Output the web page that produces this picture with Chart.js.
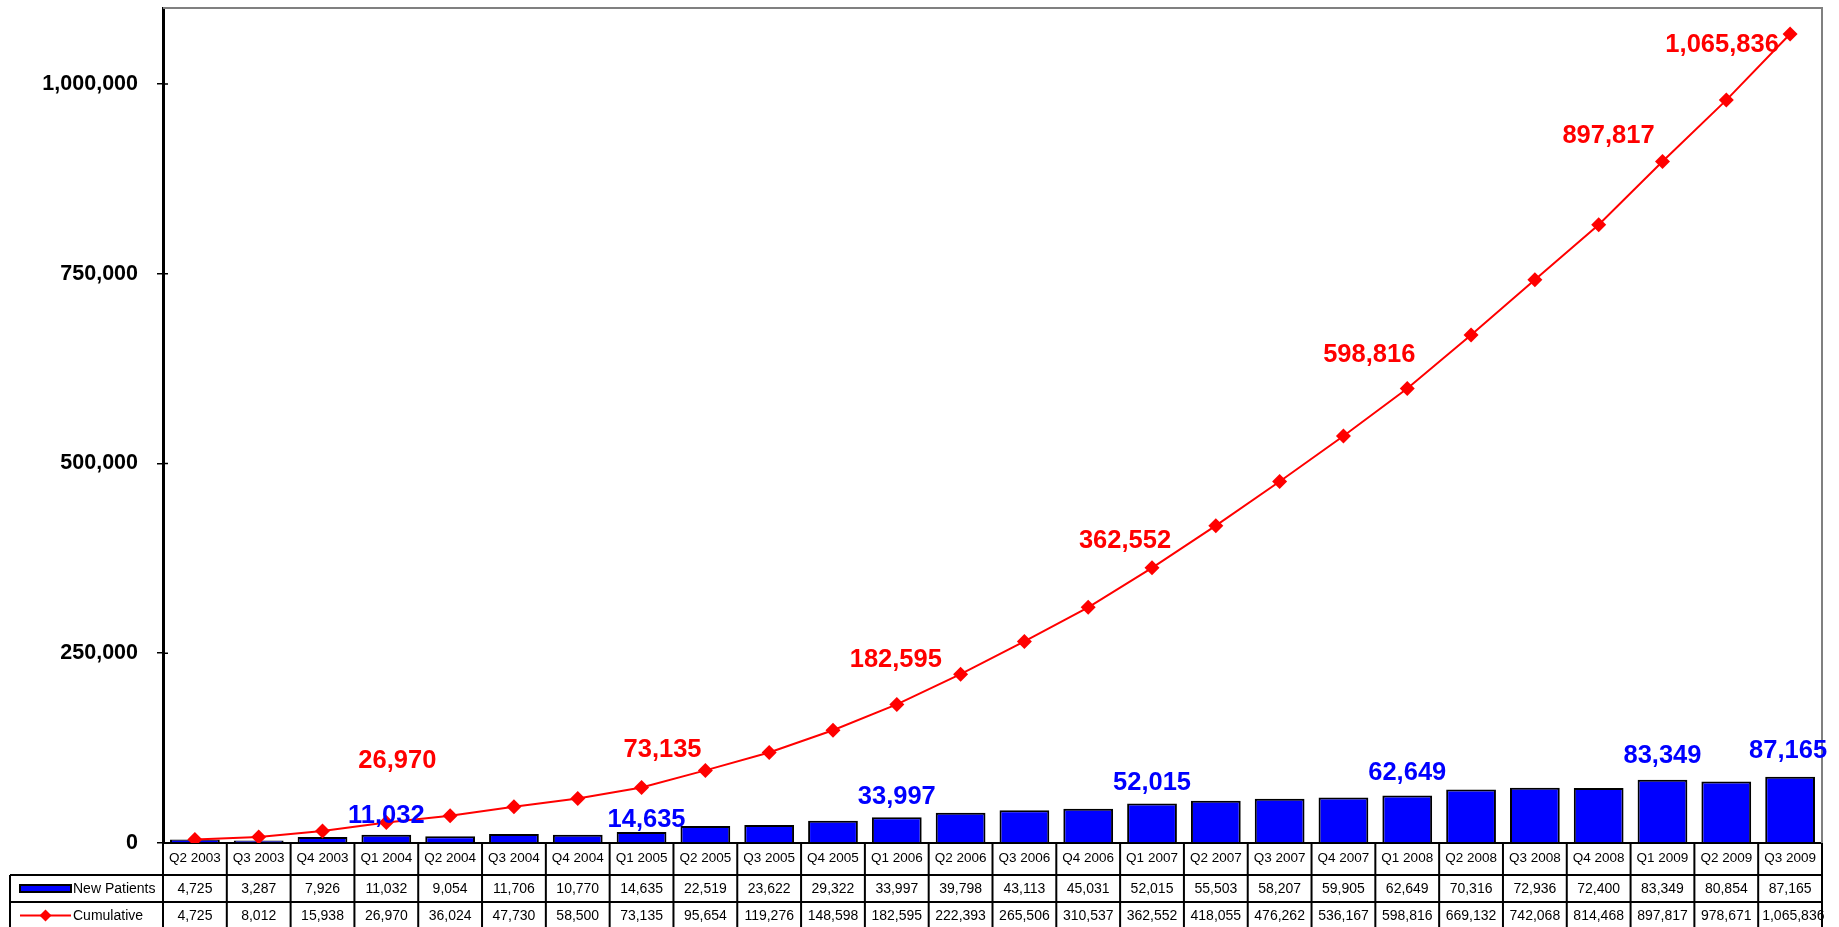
<!DOCTYPE html>
<html>
<head>
<meta charset="utf-8">
<script src="https://cdn.jsdelivr.net/npm/chart.js@4.4.1/dist/chart.umd.min.js"></script>
<style>
  html, body { margin: 0; padding: 0; background: #fff; overflow: hidden; }
  #wrap { width: 1839px; height: 927px; position: relative; }
</style>
</head>
<body>
<div id="wrap"><canvas id="c"></canvas></div>
<script>
// ---- data ----
const categories = ['Q2 2003','Q3 2003','Q4 2003','Q1 2004','Q2 2004','Q3 2004','Q4 2004',
  'Q1 2005','Q2 2005','Q3 2005','Q4 2005','Q1 2006','Q2 2006','Q3 2006','Q4 2006',
  'Q1 2007','Q2 2007','Q3 2007','Q4 2007','Q1 2008','Q2 2008','Q3 2008','Q4 2008',
  'Q1 2009','Q2 2009','Q3 2009'];
const newPatients = [4725,3287,7926,11032,9054,11706,10770,14635,22519,23622,29322,33997,
  39798,43113,45031,52015,55503,58207,59905,62649,70316,72936,72400,83349,80854,87165];
const cumulative = [4725,8012,15938,26970,36024,47730,58500,73135,95654,119276,148598,182595,
  222393,265506,310537,362552,418055,476262,536167,598816,669132,742068,814468,897817,978671,1065836];
const seriesNames = ['New Patients','Cumulative'];
const yTicks = [0,250000,500000,750000,1000000];
const labelledIdx = [3,7,11,15,19,23,25];

// ---- label placement (pixel offsets from the library-computed point) ----
const cumLabelOffsets = {3:[11,-62],7:[21,-38],11:[-1,-44],15:[-27,-27],19:[-38,-33],23:[-54,-26],25:[-68,11]};
const newLabelOffsets = {3:[0,-19],7:[5,-12],11:[0,-20],15:[0,-21],19:[0,-22],23:[0,-24],25:[-2,-26]};

const FONT = '"Liberation Sans", Arial, Helvetica, sans-serif';
const fmt = v => v.toLocaleString('en-US');

const frameAndLabels = {
  id: 'frameAndLabels',
  beforeDatasetsDraw(chart) {
    const {ctx, chartArea: a} = chart;
    ctx.save();
    ctx.strokeStyle = '#808080';
    ctx.lineWidth = 2;
    ctx.beginPath();
    ctx.moveTo(a.left, a.top); ctx.lineTo(a.right, a.top); ctx.lineTo(a.right, a.bottom);
    ctx.stroke();
    // tick marks crossing into the plot area
    const y = chart.scales.y;
    ctx.strokeStyle = '#000';
    ctx.lineWidth = 1.5;
    ctx.beginPath();
    yTicks.forEach(v => { const py = y.getPixelForValue(v); ctx.moveTo(a.left, py); ctx.lineTo(a.left + 5, py); });
    ctx.stroke();
    ctx.restore();
  },
  afterDatasetsDraw(chart) {
    const {ctx} = chart;
    ctx.save();
    ctx.font = 'bold 25.5px ' + FONT;
    ctx.textAlign = 'center';
    ctx.textBaseline = 'middle';
    const barMeta = chart.getDatasetMeta(0);
    const lineMeta = chart.getDatasetMeta(1);
    labelledIdx.forEach(i => {
      const b = barMeta.data[i];
      const ob = newLabelOffsets[i];
      ctx.fillStyle = '#0000FF';
      ctx.fillText(fmt(newPatients[i]), b.x + ob[0], b.y + ob[1]);
      const p = lineMeta.data[i];
      const op = cumLabelOffsets[i];
      ctx.fillStyle = '#FF0000';
      ctx.fillText(fmt(cumulative[i]), p.x + op[0], p.y + op[1]);
    });
    ctx.restore();
  }
};

const dataTable = {
  id: 'dataTable',
  afterDraw(chart) {
    const {ctx, chartArea: a, scales: {x}} = chart;
    const n = categories.length;
    const bounds = [];
    for (let i = 0; i <= n; i++) {
      bounds.push(i === 0 ? a.left : (i === n ? a.right : (x.getPixelForValue(i - 1) + x.getPixelForValue(i)) / 2));
    }
    const catTop = a.bottom, r1 = a.bottom + 32, r2 = r1 + 27, r3 = r2 + 27;
    const tl = 10;
    ctx.save();
    ctx.strokeStyle = '#000';
    ctx.lineWidth = 2;
    ctx.beginPath();
    [r1, r2, r3].forEach(y => { ctx.moveTo(tl, y); ctx.lineTo(a.right, y); });
    bounds.forEach(b => { ctx.moveTo(b, catTop); ctx.lineTo(b, r3); });
    ctx.moveTo(tl, r1); ctx.lineTo(tl, r3);
    ctx.stroke();

    ctx.fillStyle = '#000';
    ctx.font = '14px ' + FONT;
    ctx.textBaseline = 'middle';
    for (let i = 0; i < n; i++) {
      const cx = x.getPixelForValue(i);
      const cellW = bounds[i + 1] - bounds[i];
      [[newPatients[i], (r1 + r2) / 2 + 1], [cumulative[i], (r2 + r3) / 2 + 1]].forEach(([v, cy]) => {
        const t = fmt(v);
        const w = ctx.measureText(t).width;
        if (w > cellW - 6) { ctx.textAlign = 'left'; ctx.fillText(t, bounds[i] + 4, cy); }
        else { ctx.textAlign = 'center'; ctx.fillText(t, cx, cy); }
      });
    }

    // legend keys
    const ky1 = (r1 + r2) / 2, ky2 = (r2 + r3) / 2;
    ctx.fillStyle = '#0000FF';
    ctx.fillRect(20, ky1 - 3.5, 51, 7);
    ctx.lineWidth = 2;
    ctx.strokeStyle = '#000';
    ctx.strokeRect(20, ky1 - 3.5, 51, 7);
    ctx.strokeStyle = '#FF0000';
    ctx.beginPath(); ctx.moveTo(20, ky2); ctx.lineTo(71, ky2); ctx.stroke();
    ctx.fillStyle = '#FF0000';
    ctx.beginPath();
    ctx.moveTo(45.5, ky2 - 6); ctx.lineTo(51.5, ky2); ctx.lineTo(45.5, ky2 + 6); ctx.lineTo(39.5, ky2);
    ctx.closePath(); ctx.fill();
    ctx.fillStyle = '#000';
    ctx.textAlign = 'left';
    ctx.fillText(seriesNames[0], 73, ky1 + 1);
    ctx.fillText(seriesNames[1], 73, ky2 + 1);
    ctx.restore();
  }
};

new Chart(document.getElementById('c'), {
  data: {
    labels: categories,
    datasets: [
      {
        type: 'bar',
        label: seriesNames[0],
        data: newPatients,
        backgroundColor: '#0000FF',
        borderColor: '#000000',
        borderWidth: 2,
        barPercentage: 0.78,
        categoryPercentage: 1.0,
        order: 2
      },
      {
        type: 'line',
        label: seriesNames[1],
        data: cumulative,
        borderColor: '#FF0000',
        backgroundColor: '#FF0000',
        borderWidth: 2,
        pointStyle: 'rectRot',
        pointRadius: 7.5,
        pointBorderWidth: 0,
        tension: 0,
        order: 1
      }
    ]
  },
  options: {
    responsive: true,
    maintainAspectRatio: false,
    devicePixelRatio: 1,
    animation: false,
    layout: { padding: { left: 0, right: 17, top: 8, bottom: 0 } },
    plugins: { legend: { display: false }, tooltip: { enabled: false } },
    scales: {
      x: {
        afterFit(s) { s.height = 84; s.paddingLeft = 0; s.paddingRight = 0; },
        grid: { display: true, drawOnChartArea: false, drawTicks: false },
        border: { display: true, color: '#000', width: 2 },
        ticks: { autoSkip: false, maxRotation: 0, minRotation: 0, padding: 7, color: '#000', font: { family: FONT, size: 13.5 } }
      },
      y: {
        min: 0,
        max: 1100000,
        afterFit(s) { s.width = 163; s.paddingTop = 0; s.paddingBottom = 0; },
        afterBuildTicks(s) { s.ticks = yTicks.map(v => ({ value: v })); },
        grid: { display: true, drawOnChartArea: false, drawTicks: true, tickLength: 6, color: '#000', lineWidth: 1.5 },
        border: { display: true, color: '#000', width: 3 },
        ticks: { padding: 19, color: '#000', font: { family: FONT, size: 21.5, weight: 'bold' }, callback: v => fmt(v) }
      }
    }
  },
  plugins: [frameAndLabels, dataTable]
});
</script>
</body>
</html>
